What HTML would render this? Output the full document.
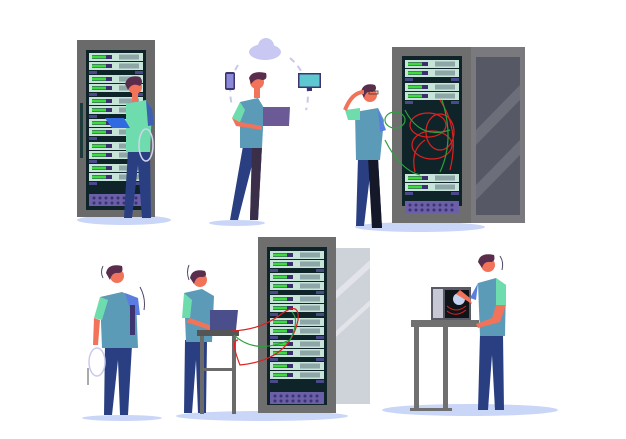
<!DOCTYPE html>
<html><head><meta charset="utf-8"><style>html,body{margin:0;padding:0;background:#fff}svg{display:block}</style></head>
<body>
<svg width="626" height="439" viewBox="0 0 626 439" xmlns="http://www.w3.org/2000/svg">
<defs>
<g id="u">
<rect x="0" y="0" width="54" height="8" fill="#c6e4d8"/>
<rect x="3" y="2" width="20" height="4" fill="#3b2f6e"/>
<rect x="3" y="2.5" width="14" height="3" fill="#3ddc3d"/>
<rect x="30" y="1.5" width="20" height="5" fill="#8fa6a8"/>
<rect x="0" y="9" width="54" height="8" fill="#c6e4d8"/>
<rect x="3" y="11" width="20" height="4" fill="#3b2f6e"/>
<rect x="3" y="11.5" width="14" height="3" fill="#3ddc3d"/>
<rect x="30" y="10.5" width="20" height="5" fill="#8fa6a8"/>
<rect x="0" y="18" width="8" height="3" fill="#4a4a8a"/>
<rect x="46" y="18" width="8" height="3" fill="#4a4a8a"/>
</g>
<g id="grill">
<rect x="0" y="0" width="54" height="12" fill="#6a5fa8"/>
<g fill="#3b3470">
<circle cx="5" cy="4" r="1.5"/><circle cx="11" cy="4" r="1.5"/><circle cx="17" cy="4" r="1.5"/><circle cx="23" cy="4" r="1.5"/><circle cx="29" cy="4" r="1.5"/><circle cx="35" cy="4" r="1.5"/><circle cx="41" cy="4" r="1.5"/><circle cx="47" cy="4" r="1.5"/>
<circle cx="5" cy="9" r="1.5"/><circle cx="11" cy="9" r="1.5"/><circle cx="17" cy="9" r="1.5"/><circle cx="23" cy="9" r="1.5"/><circle cx="29" cy="9" r="1.5"/><circle cx="35" cy="9" r="1.5"/><circle cx="41" cy="9" r="1.5"/><circle cx="47" cy="9" r="1.5"/>
</g>
</g>
</defs>

<!-- shadows -->
<g fill="#c9d6f7">
<ellipse cx="124" cy="220" rx="47" ry="5"/>
<ellipse cx="237" cy="223" rx="28" ry="3"/>
<ellipse cx="420" cy="227" rx="65" ry="5"/>
<ellipse cx="122" cy="418" rx="40" ry="3"/>
<ellipse cx="262" cy="416" rx="86" ry="5"/>
<ellipse cx="470" cy="410" rx="88" ry="6"/>
</g>

<!-- Rack 1 -->
<rect x="77" y="40" width="78" height="177" fill="#6a6a6a"/>
<rect x="86" y="50" width="60" height="160" fill="#0f2428"/>
<rect x="80" y="103" width="3" height="55" fill="#1c3a3a"/>
<use href="#u" x="89" y="53"/><use href="#u" x="89" y="75"/><use href="#u" x="89" y="97"/><use href="#u" x="89" y="119"/><use href="#u" x="89" y="142"/><use href="#u" x="89" y="164"/>
<use href="#grill" x="89" y="194"/>

<!-- Person 1 -->
<path d="M128 150 L124 218 L132 218 L138 165 L142 218 L151 218 L150 150Z" fill="#2a3f82"/>
<path d="M126 104 L146 100 L152 108 L150 152 L126 152Z" fill="#6fdcae"/>
<path d="M146 100 L152 108 L154 125 L148 126Z" fill="#3f5fb0"/>
<circle cx="135" cy="87" r="7" fill="#f0735a"/>
<path d="M125 84 Q128 74 140 77 Q144 82 140 86 Q132 82 128 90Z" fill="#5a2d4d"/>
<rect x="132" y="93" width="6" height="9" fill="#f0735a"/>
<path d="M105 118 L124 118 L130 128 L112 128Z" fill="#2f6ae0"/>
<ellipse cx="146" cy="145" rx="7" ry="16" fill="none" stroke="#d0d4ee" stroke-width="1.5"/>

<!-- Center cloud and devices -->
<ellipse cx="265" cy="52" rx="16" ry="8" fill="#c8c8f2"/>
<circle cx="266" cy="46" r="8" fill="#c8c8f2"/>
<path d="M238 65 A50 50 0 0 0 232 105" fill="none" stroke="#c6c8ee" stroke-width="2" stroke-dasharray="6 5"/>
<path d="M290 58 A50 50 0 0 1 306 110" fill="none" stroke="#c6c8ee" stroke-width="2" stroke-dasharray="6 5"/>
<rect x="225" y="72" width="10" height="18" rx="2" fill="#3d3470"/>
<rect x="226.5" y="74" width="7" height="14" fill="#8a8ad8"/>
<rect x="298" y="73" width="23" height="15" fill="#3d3470"/>
<rect x="299.5" y="74.5" width="20" height="12" fill="#5ec8d0"/>
<rect x="307" y="88" width="5" height="3" fill="#3d3470"/>

<!-- Person 2 -->
<path d="M243 146 L230 220 L238 220 L252 165 L250 220 L258 220 L262 146Z" fill="#2a3f82"/>
<path d="M252 146 L262 146 L258 220 L250 220Z" fill="#3a2e48"/>
<path d="M240 102 L258 98 L264 108 L262 148 L240 148Z" fill="#5b9bb8"/>
<path d="M240 102 L232 118 L240 122 L245 110Z" fill="#6fdcae"/>
<path d="M232 118 L240 122 L262 126 L262 130 L236 126Z" fill="#f0735a"/>
<circle cx="257" cy="82" r="7" fill="#f0735a"/>
<path d="M249 78 Q252 70 266 73 Q268 80 262 80 Q256 77 251 84Z" fill="#5a2d4d"/>
<rect x="254" y="88" width="6" height="10" fill="#f0735a"/>
<path d="M263 107 L290 107 L289 126 L263 126Z" fill="#6b5a96"/>

<!-- Rack 3 -->
<rect x="392" y="47" width="80" height="176" fill="#6e6e6e"/>
<rect x="471" y="47" width="54" height="176" fill="#7a7a7e"/>
<rect x="476" y="57" width="44" height="158" fill="#565866"/>
<path d="M476 130 L520 85 L520 100 L476 145Z M476 185 L520 140 L520 155 L476 200Z" fill="#6c6e7a"/>
<rect x="402" y="56" width="60" height="150" fill="#0f2428"/>
<use href="#u" x="405" y="60"/><use href="#u" x="405" y="83"/><use href="#u" x="405" y="174"/>
<use href="#grill" x="405" y="201"/>
<g fill="none" stroke="#e02020" stroke-width="1.2">
<ellipse cx="428" cy="125" rx="18" ry="12"/><ellipse cx="440" cy="132" rx="14" ry="18"/><ellipse cx="432" cy="145" rx="20" ry="14"/>
<path d="M415 172 Q410 150 425 140 M450 170 Q460 130 440 100"/>
</g>
<g fill="none" stroke="#2ca040" stroke-width="1.2">
<ellipse cx="395" cy="120" rx="10" ry="8"/><path d="M385 140 Q400 170 420 175 M442 100 Q455 140 440 172 M405 110 Q420 140 450 130"/>
</g>

<!-- Person 3 -->
<path d="M358 158 L356 226 L364 226 L370 175 L372 228 L382 228 L378 158Z" fill="#2a3f82"/>
<path d="M368 158 L378 158 L382 228 L372 228Z" fill="#141828"/>
<path d="M355 112 L378 108 L384 120 L380 160 L356 160Z" fill="#5b9bb8"/>
<path d="M345 110 L360 108 L360 120 L348 120Z" fill="#6fdcae"/>
<path d="M378 108 L386 130 L380 132Z" fill="#5a7de0"/>
<circle cx="370" cy="95" r="7" fill="#f0735a"/>
<path d="M361 92 Q363 82 375 85 Q378 90 372 92 Q366 90 364 98Z" fill="#5a2d4d"/>
<rect x="369" y="91" width="9" height="3" fill="none" stroke="#333" stroke-width="0.8"/>
<path d="M345 110 Q352 92 364 92" stroke="#f0735a" stroke-width="4" fill="none"/>

<!-- Person 4 -->
<path d="M105 345 L104 415 L112 415 L118 360 L120 415 L128 415 L132 345Z" fill="#2a3f82"/>
<path d="M100 297 L122 292 L136 298 L138 348 L102 348Z" fill="#5b9bb8"/>
<path d="M100 297 L94 318 L102 320 L108 300Z" fill="#6fdcae"/>
<path d="M125 293 L138 298 L140 315 L132 315Z" fill="#5a7de0"/>
<path d="M94 318 L100 320 L98 345 L93 345Z" fill="#f0735a"/>
<rect x="130" y="305" width="5" height="30" fill="#3d3470"/>
<circle cx="117" cy="276" r="7" fill="#f0735a"/>
<path d="M106 273 Q108 263 122 266 Q124 273 118 273 Q112 272 110 280Z" fill="#5a2d4d"/>
<ellipse cx="97" cy="362" rx="8" ry="14" fill="none" stroke="#c8caee" stroke-width="1.5"/>
<path d="M88 368 L88 385" stroke="#555" stroke-width="1"/>
<path d="M103 266 Q100 272 103 278 M140 287 Q146 298 144 310" stroke="#4a4a6a" fill="none"/>

<!-- Rack 5 -->
<rect x="326" y="248" width="44" height="156" fill="#c6cad2" opacity="0.85"/>
<path d="M326 300 L370 260 L370 268 L326 308Z M326 340 L370 300 L370 306 L326 346Z" fill="#e2e4ea"/>
<rect x="258" y="237" width="78" height="176" fill="#6e6e6e"/>
<rect x="267" y="247" width="60" height="158" fill="#0f2428"/>
<use href="#u" x="270" y="251"/><use href="#u" x="270" y="273"/><use href="#u" x="270" y="295"/><use href="#u" x="270" y="318"/><use href="#u" x="270" y="340"/><use href="#u" x="270" y="362"/>
<use href="#grill" x="270" y="392"/>

<!-- Person 5 & table -->
<path d="M185 340 L184 413 L192 413 L196 360 L198 413 L206 413 L207 340Z" fill="#2a3f82"/>
<path d="M184 293 L202 289 L214 296 L212 342 L186 342Z" fill="#5b9bb8"/>
<path d="M184 293 L182 318 L190 318 L192 300Z" fill="#6fdcae"/>
<path d="M190 318 L212 326 L210 330 L186 322Z" fill="#f0735a"/>
<circle cx="200" cy="280" r="7" fill="#f0735a"/>
<path d="M190 278 Q192 268 205 271 Q208 277 202 277 Q196 276 194 284Z" fill="#5a2d4d"/>
<path d="M189 265 Q186 272 189 280" stroke="#4a4a6a" fill="none"/>
<path d="M210 310 L238 310 L236 330 L210 330Z" fill="#4a4e8a"/>
<rect x="197" y="330" width="42" height="6" fill="#555"/>
<rect x="200" y="336" width="4" height="78" fill="#6a6a6a"/>
<rect x="232" y="336" width="4" height="78" fill="#6a6a6a"/>
<rect x="200" y="368" width="36" height="3" fill="#6a6a6a"/>
<g fill="none" stroke-width="1.2">
<path d="M232 331 Q260 330 280 315 Q300 300 298 320 Q290 360 240 365 Q230 340 238 340" stroke="#e02020"/>
<path d="M234 335 Q255 355 290 340 Q300 320 292 312" stroke="#2ca040"/>
</g>

<!-- Right table & device -->
<rect x="411" y="320" width="68" height="7" fill="#707070"/>
<rect x="414" y="327" width="5" height="83" fill="#707070"/>
<rect x="443" y="327" width="5" height="83" fill="#707070"/>
<rect x="410" y="408" width="42" height="3" fill="#707070"/>
<rect x="431" y="287" width="40" height="33" fill="#5a5a66"/>
<rect x="433" y="289" width="10" height="29" fill="#c6c8d6"/>
<rect x="445" y="290" width="24" height="28" fill="#0e1418"/>
<circle cx="459" cy="299" r="6" fill="#c6d4f2"/>
<path d="M447 306 Q456 314 466 306 M447 311 Q456 318 466 310" stroke="#e02020" fill="none"/>

<!-- Person 6 -->
<path d="M480 334 L478 410 L488 410 L492 355 L495 410 L504 410 L503 334Z" fill="#2a3f82"/>
<path d="M478 283 L496 278 L506 285 L505 336 L480 336Z" fill="#5b9bb8"/>
<path d="M496 278 L506 285 L506 305 L496 305Z" fill="#6fdcae"/>
<path d="M478 283 L470 298 L476 300Z" fill="#5a7de0"/>
<path d="M470 298 L460 290 L456 294 L472 304Z M496 305 L492 318 L476 324 L478 328 L500 322 L506 305Z" fill="#f0735a"/>
<circle cx="488" cy="265" r="7" fill="#f0735a"/>
<path d="M478 262 Q480 252 494 255 Q496 262 490 262 Q484 261 482 268Z" fill="#5a2d4d"/>
<path d="M500 256 Q504 262 502 270" stroke="#4a4a6a" fill="none"/>
</svg>
</body></html>
